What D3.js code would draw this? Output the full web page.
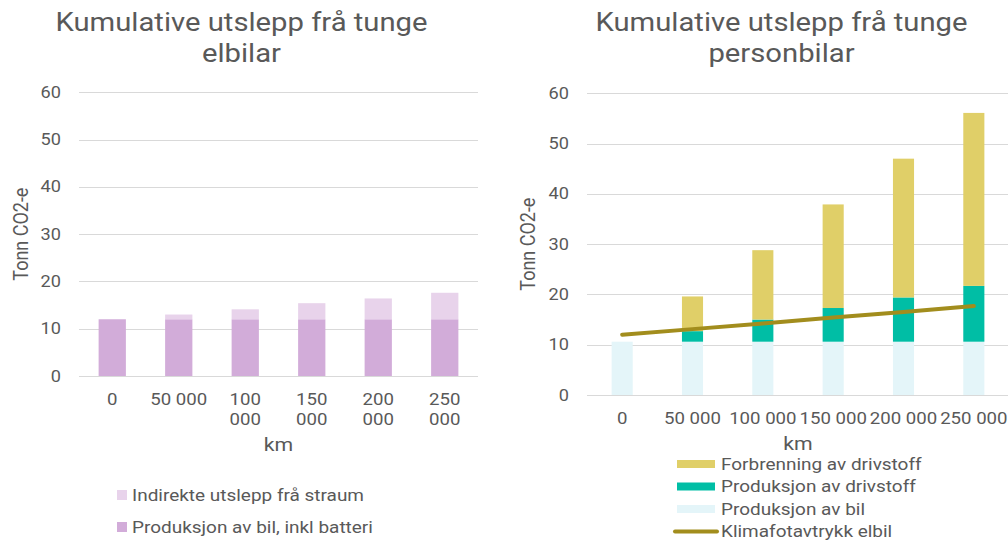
<!DOCTYPE html>
<html>
<head>
<meta charset="utf-8">
<script src="https://cdn.jsdelivr.net/npm/d3@7/dist/d3.min.js"></script>
<style>
  html, body { margin: 0; padding: 0; background: #fff; }
  svg { display: block; font-family: Roboto, "Noto Sans", sans-serif; }
</style>
</head>
<body>
<svg id="chart" width="1008" height="543"></svg>
<script>
// ---------- data ----------
const kmLabels = ["0", "50 000", "100 000", "150 000", "200 000", "250 000"];
const yTicks = [0, 10, 20, 30, 40, 50, 60];

// Left chart: heavy electric cars
const elProduksjonBil = [12.0, 12.0, 12.0, 12.0, 12.0, 12.0];
const elIndirekteStraum = [0.0, 1.0, 2.1, 3.4, 4.4, 5.6];

// Right chart: heavy conventional cars
const pbProduksjonBil = [10.6, 10.6, 10.6, 10.6, 10.6, 10.6];
const pbProduksjonDrivstoff = [0.0, 2.1, 4.4, 6.7, 8.8, 11.1];
const pbForbrenning = [0.0, 6.9, 13.8, 20.6, 27.6, 34.4];
const klimafotavtrykkElbil = [12.0, 13.1, 14.2, 15.4, 16.5, 17.7];

const titleLeft = ["Kumulative utslepp frå tunge", "elbilar"];
const titleRight = ["Kumulative utslepp frå tunge", "personbilar"];
const yTitle = "Tonn CO2-e";
const xTitle = "km";

const colors = {
  elBil: "#d2acd9",
  elStraum: "#e8d3eb",
  pbBil: "#e4f5f9",
  pbDrivstoff: "#00bea5",
  pbForbrenning: "#e0cf68",
  line: "#a28d1d",
  text: "#595959",
  grid: "#d9d9d9"
};

const SX = 1.15; // horizontal text stretch of the reference rendering

const svg = d3.select("#chart");

function txt(g, x, y, s, size, anchor, opts = {}) {
  const t = g.append("text")
    .attr("transform", `translate(${x},${y}) scale(${opts.sx ?? SX},1)`)
    .attr("text-anchor", anchor)
    .attr("dominant-baseline", opts.baseline || "central")
    .attr("font-size", size)
    .attr("fill", opts.fill || colors.text)
    .text(s);
  if (opts.weight) t.attr("font-weight", opts.weight);
  return t;
}

function drawChart(cfg) {
  const g = svg.append("g");
  const x = d3.scaleBand().domain(kmLabels).range([cfg.x0, cfg.x1])
    .paddingInner(cfg.pad).paddingOuter(cfg.pad / 2);
  const y = d3.scaleLinear().domain([0, 60]).range([cfg.y0, cfg.y1]);

  // gridlines
  g.append("g").selectAll("line").data(yTicks).join("line")
    .attr("x1", cfg.x0).attr("x2", cfg.x1)
    .attr("y1", d => Math.round(y(d)) + 0.5).attr("y2", d => Math.round(y(d)) + 0.5)
    .attr("stroke", colors.grid).attr("stroke-width", 1);

  // y tick labels
  yTicks.forEach(v => txt(g, cfg.x0 - 18, y(v), String(v), 15.8, "end"));

  // stacked bars
  const stack = d3.stack().keys(cfg.series.map((s, i) => i))
    .value((d, k) => cfg.series[k].values[d]);
  const stacked = stack(d3.range(kmLabels.length));
  stacked.forEach((layer, li) => {
    g.append("g").selectAll("rect").data(layer).join("rect")
      .attr("x", (d, i) => x(kmLabels[i]))
      .attr("width", x.bandwidth())
      .attr("y", d => y(d[1]))
      .attr("height", d => Math.max(0, y(d[0]) - y(d[1])))
      .attr("fill", cfg.series[li].color);
  });

  // line
  if (cfg.line) {
    const line = d3.line()
      .x((d, i) => x(kmLabels[i]) + x.bandwidth() / 2)
      .y(d => y(d));
    g.append("path").datum(cfg.line.values)
      .attr("d", line).attr("fill", "none")
      .attr("stroke", cfg.line.color).attr("stroke-width", 4)
      .attr("stroke-linecap", "round");
  }

  // x tick labels
  kmLabels.forEach(lbl => {
    const cx = x(lbl) + x.bandwidth() / 2;
    const lines = cfg.wrap && lbl.length > 6 ? lbl.split(" ") : [lbl];
    lines.forEach((l, i) => txt(g, cx, cfg.xLabelY + i * 20, l, 16.2, "middle"));
  });

  // axis titles
  txt(g, (cfg.x0 + cfg.x1) / 2, cfg.xTitleY, xTitle, 18.5, "middle");
  g.append("text")
    .attr("transform", `translate(${cfg.yTitleX},${(cfg.y0 + cfg.y1) / 2}) rotate(-90) scale(1,${SX})`)
    .attr("text-anchor", "middle").attr("dominant-baseline", "central")
    .attr("font-size", 18).attr("fill", colors.text).text(yTitle);

  // chart title
  cfg.title.forEach((l, i) => txt(g, cfg.titleX, cfg.titleY + i * 31, l, 25, "middle", { baseline: "alphabetic", sx: 1.17 }));

  return { g, x, y };
}

// Left chart
const left = drawChart({
  x0: 79, x1: 478, y0: 376, y1: 92.3, pad: 0.59,
  series: [
    { values: elProduksjonBil, color: colors.elBil },
    { values: elIndirekteStraum, color: colors.elStraum }
  ],
  wrap: true, xLabelY: 399, xTitleY: 445, yTitleX: 21,
  title: titleLeft, titleX: 241.5, titleY: 31
});

// Right chart
const right = drawChart({
  x0: 587, x1: 1009, y0: 395, y1: 93.3, pad: 0.70,
  series: [
    { values: pbProduksjonBil, color: colors.pbBil },
    { values: pbProduksjonDrivstoff, color: colors.pbDrivstoff },
    { values: pbForbrenning, color: colors.pbForbrenning }
  ],
  line: { values: klimafotavtrykkElbil, color: colors.line },
  wrap: false, xLabelY: 418, xTitleY: 444, yTitleX: 528.5,
  title: titleRight, titleX: 781.5, titleY: 31
});

// Left legend
const leftLegend = [
  { label: "Indirekte utslepp frå straum", color: colors.elStraum },
  { label: "Produksjon av bil, inkl batteri", color: colors.elBil }
];
const lg = svg.append("g");
leftLegend.forEach((d, i) => {
  const cy = 495 + i * 32;
  lg.append("rect").attr("x", 117).attr("y", cy - 5).attr("width", 10).attr("height", 10).attr("fill", d.color);
  txt(lg, 132, cy, d.label, 16.5, "start");
});

// Right legend
const rightLegend = [
  { label: "Forbrenning av drivstoff", color: colors.pbForbrenning, type: "rect" },
  { label: "Produksjon av drivstoff", color: colors.pbDrivstoff, type: "rect" },
  { label: "Produksjon av bil", color: colors.pbBil, type: "rect" },
  { label: "Klimafotavtrykk elbil", color: colors.line, type: "line" }
];
const rg = svg.append("g");
rightLegend.forEach((d, i) => {
  const cy = 464 + i * 22.5;
  if (d.type === "rect") {
    rg.append("rect").attr("x", 677).attr("y", cy - 4).attr("width", 38).attr("height", 8).attr("fill", d.color);
  } else {
    rg.append("line").attr("x1", 675).attr("x2", 717).attr("y1", cy).attr("y2", cy)
      .attr("stroke", d.color).attr("stroke-width", 4).attr("stroke-linecap", "round");
  }
  txt(rg, 721, cy, d.label, 16.5, "start");
});
</script>
</body>
</html>
